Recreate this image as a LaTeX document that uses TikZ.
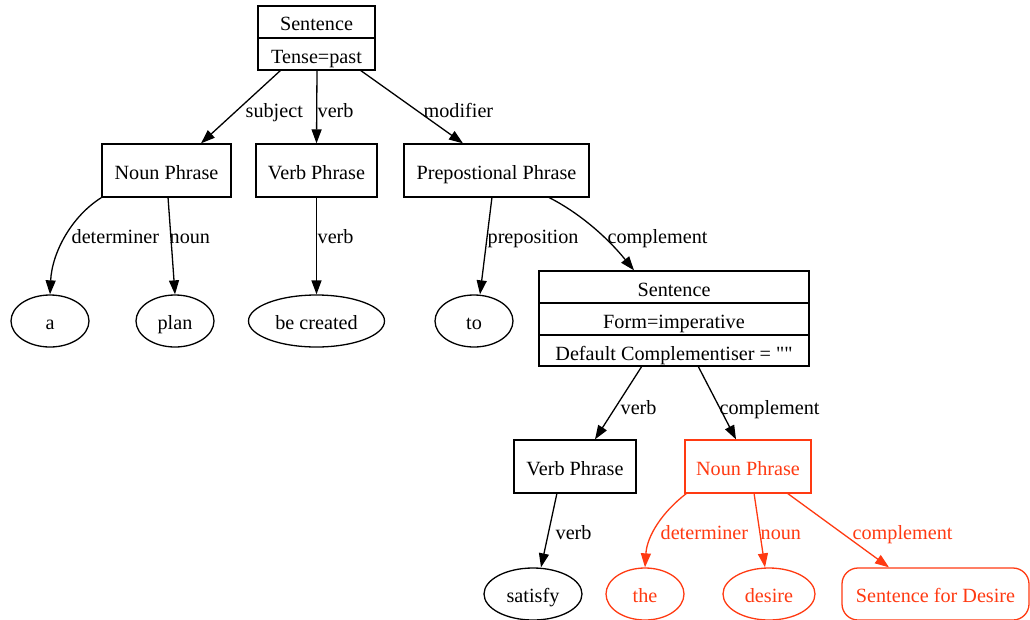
\documentclass[tikz,border=0pt]{standalone}
\usepackage{fontspec}
\setmainfont{Liberation Serif}[Ligatures=TeXOff]
\usetikzlibrary{arrows.meta,shapes.geometric}
\definecolor{hl}{HTML}{FF3A12}
\begin{document}
\begin{tikzpicture}[x=1pt,y=-1pt,
  every node/.style={font=\fontsize{20.2}{23}\selectfont, inner sep=0pt},
  line width=1.3pt,
  txt/.style={text height=17.5pt, text depth=0pt},
  box/.style={draw, rectangle, txt, line width=1.3pt},
  oval/.style={draw, ellipse, txt, line width=1.3pt},
  edge/.style={-{Triangle[length=14pt,width=10pt]}, line width=1.3pt},
  lbl/.style={anchor=west, txt},
  hlt/.style={draw=hl, text=hl, color=hl}]
\useasboundingbox (0,0) rectangle (1030,619);

% top-level sentence record
\node[box, minimum width=117pt, minimum height=64pt] (s1) at (316.5,38) {};
\draw (s1.west |- 0,38) -- (s1.east |- 0,38);
\node[txt] (s1a) at (316.5,22) {Sentence};
\node[txt] (s1b) at (316.5,55) {Tense=past};

% phrase boxes
\node[box, minimum width=129pt, minimum height=53pt] (np) at (166.5,170.5) {Noun Phrase};
\node[box, minimum width=121pt, minimum height=53pt] (vp) at (316.5,170.5) {Verb Phrase};
\node[box, minimum width=185pt, minimum height=53pt] (pp) at (496.5,170.5) {Prepostional Phrase};

% leaves
\node[oval, minimum width=78pt, minimum height=52pt] (a) at (50,321) {a};
\node[oval, minimum width=78pt, minimum height=52pt] (plan) at (175,321) {plan};
\node[oval, minimum width=136pt, minimum height=52pt] (bc) at (316.5,321) {be created};
\node[oval, minimum width=78pt, minimum height=52pt] (to) at (474,321) {to};

% embedded sentence record
\node[box, minimum width=270pt, minimum height=95pt] (s2) at (674,318.5) {};
\draw (s2.west |- 0,303) -- (s2.east |- 0,303);
\draw (s2.west |- 0,335) -- (s2.east |- 0,335);
\node[txt] (s2a) at (674,288) {Sentence};
\node[txt] (s2b) at (674,320) {Form=imperative};
\node[txt] (s2c) at (674,352) {Default Complementiser = ""};

\node[box, minimum width=122pt, minimum height=53pt] (vp2) at (575,466.5) {Verb Phrase};
\node[box, hlt, minimum width=126pt, minimum height=53pt] (np2) at (748,466.5) {Noun Phrase};

\node[oval, minimum width=98pt, minimum height=52pt] (sat) at (533,594) {satisfy};
\node[oval, hlt, minimum width=78pt, minimum height=52pt] (the) at (645,594) {the};
\node[oval, hlt, minimum width=92pt, minimum height=52pt] (des) at (769,594) {desire};
\node[box, hlt, rounded corners=16pt, minimum width=187pt, minimum height=52pt] (sfd) at (935.5,594) {Sentence for Desire};

% edges from the top sentence
\draw[edge] (281,70) -- (np.north -| 201,0);
\node[lbl] (l1) at (245,109) {subject};
\draw[edge] (317,70) -- (vp.north);
\node[lbl] (l2) at (317,109) {verb};
\draw[edge] (360,70) -- (pp.north -| 463,0);
\node[lbl] (l3) at (423,109) {modifier};

% noun phrase edges
\draw[edge] (np.south west) .. controls (72,216) and (52,252) .. (a.north);
\node[lbl] (l4) at (71,235) {determiner};
\draw[edge] (168,197) -- (plan.north);
\node[lbl] (l5) at (169,235) {noun};

% verb phrase edge
\draw[edge] (vp.south) -- (bc.north);
\node[lbl] (l6) at (317,235) {verb};

% prepositional phrase edges
\draw[edge] (492,197) -- (to.north -| 480,0);
\node[lbl] (l7) at (487,235) {preposition};
\draw[edge] (548,197) .. controls (578,212) and (606,236) .. (s2.north -| 634,0);
\node[lbl] (l8) at (607,235) {complement};

% embedded sentence edges
\draw[edge] (642,366) -- (vp2.north -| 595,0);
\node[lbl] (l9) at (620,406) {verb};
\draw[edge] (698,366) -- (np2.north -| 736,0);
\node[lbl] (l10) at (719,406) {complement};

% lower verb phrase edge
\draw[edge] (557,493) -- (sat.north -| 541,0);
\node[lbl] (l11) at (555,531) {verb};

% highlighted noun phrase edges
\begin{scope}[hl, draw=hl]
\draw[edge] (687,493) .. controls (662,512) and (647,536) .. (the.north);
\node[lbl, text=hl] (l12) at (660,531) {determiner};
\draw[edge] (754,493) -- (des.north -| 765,0);
\node[lbl, text=hl] (l13) at (760,531) {noun};
\draw[edge] (787,493) -- (sfd.north -| 889,0);
\node[lbl, text=hl] (l14) at (852,531) {complement};
\end{scope}
\end{tikzpicture}
\end{document}
